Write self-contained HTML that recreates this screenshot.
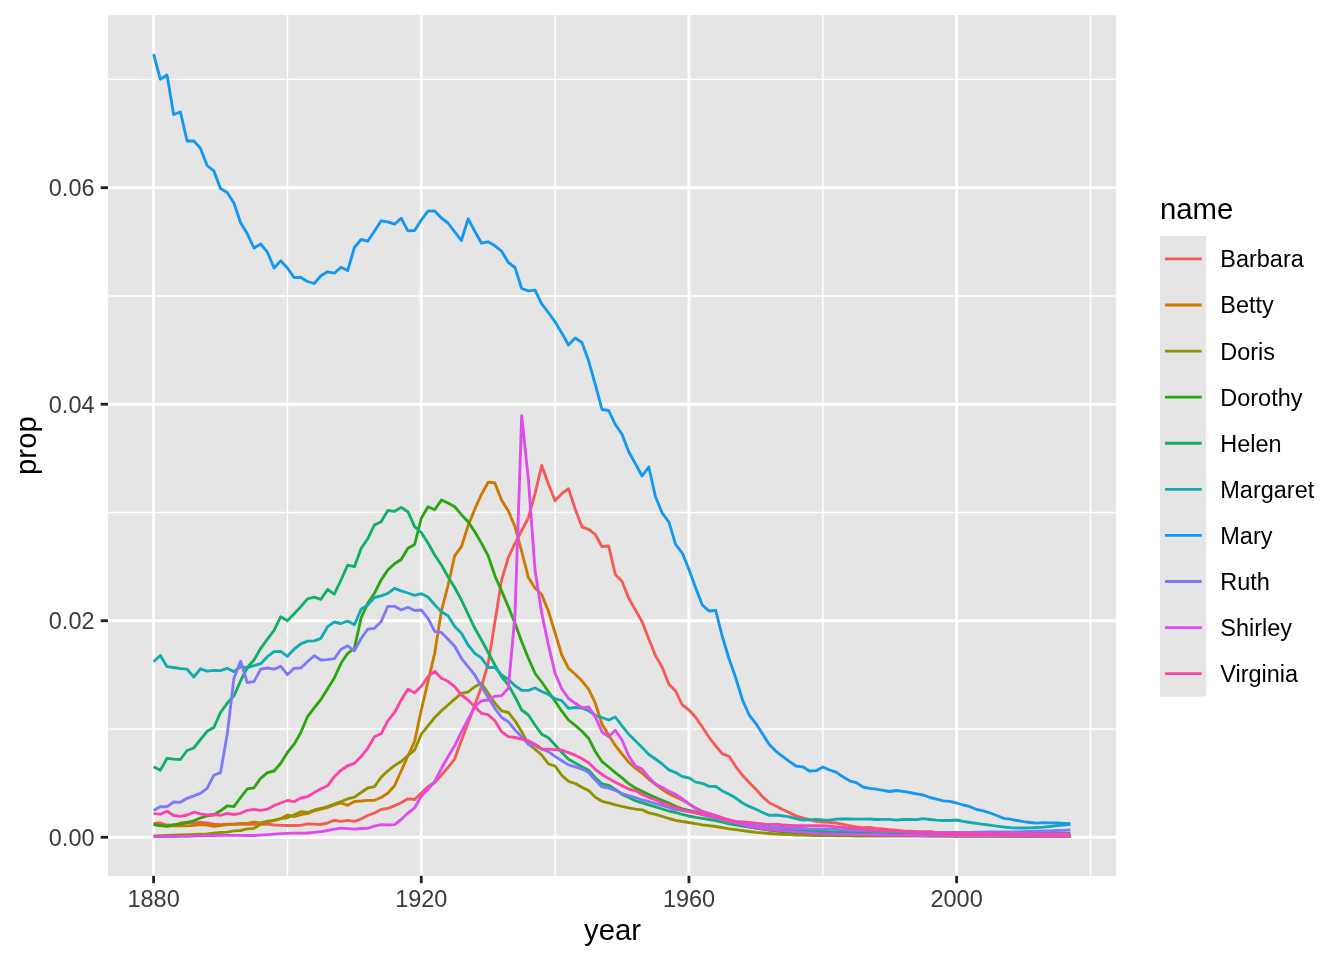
<!DOCTYPE html>
<html><head><meta charset="utf-8"><title>prop by year</title>
<style>html,body{margin:0;padding:0;background:#fff;overflow:hidden}svg{display:block;will-change:transform}text{font-family:"Liberation Sans",sans-serif}</style></head><body>
<svg width="1344" height="960" viewBox="0 0 1344 960">
<rect width="1344" height="960" fill="#fff"/>
<rect x="108" y="15.0" width="1007.9000000000001" height="860.85" fill="#E5E5E5"/>
<g stroke="#fff" stroke-width="1.42" fill="none">
<line x1="108" x2="1115.9" y1="729" y2="729"/>
<line x1="108" x2="1115.9" y1="512.5" y2="512.5"/>
<line x1="108" x2="1115.9" y1="296" y2="296"/>
<line x1="108" x2="1115.9" y1="79.4" y2="79.4"/>
<line x1="287.44" x2="287.44" y1="15.0" y2="875.85"/>
<line x1="555.12" x2="555.12" y1="15.0" y2="875.85"/>
<line x1="822.80" x2="822.80" y1="15.0" y2="875.85"/>
<line x1="1090.48" x2="1090.48" y1="15.0" y2="875.85"/>
</g><g stroke="#fff" stroke-width="2.85" fill="none">
<line x1="108" x2="1115.9" y1="837.26" y2="837.26"/>
<line x1="108" x2="1115.9" y1="620.74" y2="620.74"/>
<line x1="108" x2="1115.9" y1="404.22" y2="404.22"/>
<line x1="108" x2="1115.9" y1="187.7" y2="187.7"/>
<line x1="153.60" x2="153.60" y1="15.0" y2="875.85"/>
<line x1="421.28" x2="421.28" y1="15.0" y2="875.85"/>
<line x1="688.96" x2="688.96" y1="15.0" y2="875.85"/>
<line x1="956.64" x2="956.64" y1="15.0" y2="875.85"/>
</g>
<g fill="none" stroke-width="2.85" stroke-linejoin="round" stroke-linecap="butt">
<polyline stroke="#F55A55" points="153.6,823.3 160.3,823.0 167.0,825.0 173.7,825.3 180.4,823.0 187.1,822.5 193.8,822.8 200.4,822.5 207.1,823.0 213.8,824.2 220.5,824.7 227.2,824.2 233.9,824.2 240.6,824.2 247.3,824.2 254.0,824.2 260.7,824.2 267.4,824.2 274.1,825.0 280.7,825.3 287.4,825.5 294.1,825.5 300.8,825.3 307.5,823.8 314.2,824.2 320.9,824.5 327.6,823.0 334.3,820.3 341.0,821.3 347.7,820.3 354.4,821.3 361.1,819.0 367.7,815.5 374.4,813.0 381.1,809.5 387.8,808.3 394.5,805.8 401.2,802.8 407.9,798.8 414.6,799.5 421.3,793.0 428.0,786.7 434.7,782.5 441.4,775.0 448.0,767.5 454.7,758.8 461.4,740.4 468.1,723.0 474.8,705.0 481.5,686.7 488.2,663.3 494.9,622.0 501.6,580.0 508.3,557.5 515.0,543.3 521.7,530.5 528.4,517.8 535.0,493.8 541.7,465.5 548.4,484.0 555.1,500.8 561.8,493.6 568.5,488.7 575.2,509.0 581.9,526.8 588.6,529.4 595.3,534.3 602.0,546.7 608.7,546.0 615.3,574.5 622.0,581.3 628.7,598.3 635.4,610.0 642.1,621.7 648.8,639.0 655.5,655.6 662.2,667.3 668.9,684.2 675.6,691.0 682.3,705.0 689.0,710.0 695.7,717.2 702.3,727.0 709.0,737.3 715.7,745.8 722.4,753.8 729.1,756.3 735.8,766.6 742.5,775.3 749.2,782.4 755.9,789.3 762.6,796.8 769.3,802.8 776.0,806.0 782.6,809.5 789.3,812.6 796.0,815.9 802.7,817.8 809.4,819.7 816.1,821.3 822.8,822.0 829.5,822.4 836.2,823.0 842.9,824.3 849.6,825.7 856.3,826.9 863.0,827.7 869.6,827.4 876.3,828.3 883.0,829.0 889.7,829.7 896.4,830.2 903.1,830.8 909.8,831.2 916.5,831.7 923.2,831.9 929.9,832.0 936.6,832.4 943.3,832.8 949.9,833.0 956.6,833.3 963.3,833.5 970.0,833.7 976.7,833.8 983.4,834.0 990.1,834.2 996.8,834.3 1003.5,834.4 1010.2,834.5 1016.9,834.6 1023.6,834.7 1030.3,834.7 1036.9,834.8 1043.6,834.8 1050.3,834.9 1057.0,834.9 1063.7,835.0 1070.4,835.0"/>
<polyline stroke="#CB7A00" points="153.6,824.7 160.3,825.8 167.0,825.8 173.7,825.8 180.4,825.8 187.1,825.8 193.8,825.3 200.4,824.7 207.1,825.0 213.8,826.3 220.5,825.5 227.2,824.7 233.9,824.2 240.6,823.3 247.3,823.3 254.0,822.2 260.7,822.8 267.4,821.2 274.1,820.3 280.7,818.7 287.4,815.0 294.1,816.7 300.8,814.7 307.5,813.7 314.2,810.8 320.9,809.2 327.6,807.5 334.3,805.0 341.0,802.9 347.7,805.3 354.4,801.5 361.1,801.0 367.7,800.3 374.4,800.3 381.1,797.5 387.8,793.3 394.5,785.8 401.2,771.0 407.9,755.8 414.6,741.5 421.3,710.0 428.0,681.7 434.7,653.3 441.4,611.0 448.0,585.5 454.7,555.8 461.4,546.7 468.1,525.8 474.8,509.2 481.5,494.2 488.2,482.2 494.9,483.0 501.6,500.2 508.3,510.8 515.0,526.7 521.7,551.5 528.4,577.5 535.0,588.0 541.7,594.6 548.4,611.0 555.1,633.0 561.8,655.0 568.5,668.3 575.2,674.2 581.9,680.8 588.6,689.2 595.3,703.0 602.0,724.2 608.7,735.0 615.3,745.4 622.0,754.0 628.7,762.2 635.4,768.2 642.1,773.2 648.8,779.3 655.5,784.4 662.2,789.4 668.9,793.8 675.6,796.9 682.3,800.0 689.0,803.8 695.7,808.1 702.3,811.3 709.0,813.4 715.7,815.5 722.4,817.8 729.1,820.0 735.8,822.2 742.5,824.5 749.2,826.0 755.9,827.5 762.6,828.8 769.3,830.0 776.0,830.8 782.6,831.5 789.3,832.0 796.0,832.5 802.7,832.9 809.4,833.2 816.1,833.6 822.8,834.0 829.5,834.2 836.2,834.4 842.9,834.6 849.6,834.8 856.3,835.0 863.0,835.0 869.6,835.1 876.3,835.1 883.0,835.2 889.7,835.2 896.4,835.3 903.1,835.3 909.8,835.4 916.5,835.4 923.2,835.5 929.9,835.5 936.6,835.6 943.3,835.6 949.9,835.7 956.6,835.7 963.3,835.8 970.0,835.8 976.7,835.8 983.4,835.9 990.1,835.9 996.8,836.0 1003.5,836.0 1010.2,836.1 1016.9,836.1 1023.6,836.2 1030.3,836.2 1036.9,836.3 1043.6,836.3 1050.3,836.4 1057.0,836.4 1063.7,836.5 1070.4,836.5"/>
<polyline stroke="#929200" points="153.6,835.8 160.3,835.6 167.0,835.4 173.7,835.1 180.4,834.9 187.1,834.7 193.8,834.4 200.4,834.1 207.1,833.8 213.8,833.1 220.5,832.5 227.2,832.2 233.9,830.8 240.6,830.5 247.3,828.8 254.0,828.3 260.7,824.2 267.4,822.0 274.1,820.3 280.7,818.7 287.4,817.8 294.1,814.7 300.8,811.7 307.5,812.5 314.2,810.0 320.9,808.3 327.6,806.7 334.3,804.2 341.0,801.7 347.7,798.8 354.4,797.1 361.1,792.5 367.7,788.0 374.4,786.7 381.1,777.2 387.8,770.8 394.5,765.6 401.2,761.5 407.9,755.6 414.6,750.0 421.3,734.2 428.0,725.8 434.7,717.5 441.4,710.8 448.0,705.0 454.7,699.2 461.4,693.3 468.1,692.0 474.8,686.7 481.5,683.3 488.2,693.3 494.9,703.3 501.6,710.8 508.3,712.5 515.0,720.8 521.7,731.7 528.4,744.2 535.0,749.2 541.7,755.0 548.4,763.8 555.1,766.0 561.8,775.4 568.5,781.3 575.2,783.5 581.9,787.3 588.6,790.6 595.3,797.3 602.0,801.3 608.7,802.9 615.3,804.8 622.0,806.3 628.7,807.9 635.4,809.1 642.1,809.8 648.8,812.9 655.5,814.4 662.2,816.3 668.9,818.5 675.6,820.3 682.3,821.5 689.0,822.5 695.7,823.6 702.3,824.8 709.0,825.6 715.7,826.5 722.4,827.6 729.1,828.8 735.8,829.7 742.5,830.6 749.2,831.5 755.9,832.3 762.6,832.9 769.3,833.5 776.0,834.0 782.6,834.4 789.3,834.7 796.0,835.0 802.7,835.1 809.4,835.3 816.1,835.5 822.8,835.6 829.5,835.7 836.2,835.8 842.9,835.8 849.6,835.9 856.3,836.0 863.0,836.0 869.6,836.0 876.3,836.0 883.0,836.1 889.7,836.1 896.4,836.1 903.1,836.1 909.8,836.1 916.5,836.1 923.2,836.2 929.9,836.2 936.6,836.2 943.3,836.2 949.9,836.2 956.6,836.2 963.3,836.2 970.0,836.3 976.7,836.3 983.4,836.3 990.1,836.3 996.8,836.3 1003.5,836.3 1010.2,836.4 1016.9,836.4 1023.6,836.4 1030.3,836.4 1036.9,836.4 1043.6,836.4 1050.3,836.5 1057.0,836.5 1063.7,836.5 1070.4,836.5"/>
<polyline stroke="#2AA60F" points="153.6,824.7 160.3,825.3 167.0,826.3 173.7,824.7 180.4,824.2 187.1,822.5 193.8,820.8 200.4,818.0 207.1,815.8 213.8,815.0 220.5,810.8 227.2,805.8 233.9,806.7 240.6,797.5 247.3,788.8 254.0,787.8 260.7,778.3 267.4,772.7 274.1,771.0 280.7,763.3 287.4,752.5 294.1,744.2 300.8,732.5 307.5,716.7 314.2,707.8 320.9,699.5 327.6,688.7 334.3,678.0 341.0,663.3 347.7,653.3 354.4,648.3 361.1,618.0 367.7,603.3 374.4,593.3 381.1,580.0 387.8,570.0 394.5,563.7 401.2,559.5 407.9,548.3 414.6,544.5 421.3,518.3 428.0,506.7 434.7,509.7 441.4,500.0 448.0,503.0 454.7,506.7 461.4,514.7 468.1,521.7 474.8,531.7 481.5,543.3 488.2,555.8 494.9,575.8 501.6,590.8 508.3,606.7 515.0,623.3 521.7,641.7 528.4,658.3 535.0,673.3 541.7,682.0 548.4,691.7 555.1,701.3 561.8,711.2 568.5,720.0 575.2,725.3 581.9,731.3 588.6,738.2 595.3,751.5 602.0,761.6 608.7,767.0 615.3,772.7 622.0,777.8 628.7,783.8 635.4,787.9 642.1,791.3 648.8,794.6 655.5,797.5 662.2,800.3 668.9,803.1 675.6,806.3 682.3,808.8 689.0,810.3 695.7,811.9 702.3,813.8 709.0,815.4 715.7,817.0 722.4,819.0 729.1,821.0 735.8,823.0 742.5,825.0 749.2,826.5 755.9,828.0 762.6,829.0 769.3,830.0 776.0,830.8 782.6,831.5 789.3,832.0 796.0,832.5 802.7,832.9 809.4,833.2 816.1,833.6 822.8,834.0 829.5,834.2 836.2,834.4 842.9,834.6 849.6,834.8 856.3,835.0 863.0,835.0 869.6,835.1 876.3,835.1 883.0,835.1 889.7,835.2 896.4,835.2 903.1,835.2 909.8,835.2 916.5,835.3 923.2,835.3 929.9,835.3 936.6,835.4 943.3,835.4 949.9,835.4 956.6,835.5 963.3,835.5 970.0,835.5 976.7,835.6 983.4,835.6 990.1,835.6 996.8,835.7 1003.5,835.7 1010.2,835.7 1016.9,835.8 1023.6,835.8 1030.3,835.8 1036.9,835.8 1043.6,835.9 1050.3,835.9 1057.0,835.9 1063.7,836.0 1070.4,836.0"/>
<polyline stroke="#12AE66" points="153.6,766.7 160.3,770.3 167.0,758.3 173.7,759.2 180.4,759.5 187.1,750.5 193.8,748.0 200.4,739.7 207.1,731.3 213.8,727.5 220.5,712.5 227.2,703.3 233.9,695.8 240.6,680.8 247.3,667.5 254.0,660.0 260.7,648.3 267.4,639.2 274.1,630.3 280.7,616.7 287.4,620.8 294.1,613.7 300.8,606.7 307.5,598.8 314.2,597.2 320.9,599.3 327.6,589.5 334.3,594.2 341.0,580.0 347.7,565.2 354.4,566.7 361.1,548.5 367.7,538.8 374.4,525.0 381.1,521.7 387.8,510.5 394.5,511.3 401.2,507.5 407.9,511.7 414.6,526.7 421.3,532.5 428.0,543.0 434.7,555.0 441.4,565.0 448.0,576.7 454.7,587.5 461.4,600.0 468.1,614.2 474.8,628.3 481.5,640.0 488.2,652.5 494.9,665.0 501.6,676.7 508.3,685.0 515.0,696.7 521.7,710.0 528.4,715.0 535.0,725.0 541.7,734.2 548.4,737.8 555.1,745.0 561.8,752.5 568.5,759.3 575.2,763.0 581.9,766.8 588.6,770.2 595.3,777.7 602.0,783.8 608.7,785.3 615.3,789.4 622.0,794.4 628.7,797.5 635.4,800.6 642.1,802.9 648.8,804.8 655.5,806.9 662.2,809.0 668.9,811.0 675.6,812.5 682.3,814.4 689.0,816.0 695.7,817.3 702.3,818.3 709.0,819.5 715.7,820.6 722.4,822.2 729.1,823.8 735.8,824.9 742.5,826.0 749.2,827.0 755.9,828.0 762.6,828.7 769.3,829.4 776.0,829.7 782.6,830.0 789.3,830.3 796.0,830.6 802.7,830.8 809.4,831.0 816.1,831.3 822.8,831.5 829.5,831.7 836.2,831.8 842.9,832.0 849.6,832.1 856.3,832.3 863.0,832.3 869.6,832.4 876.3,832.4 883.0,832.4 889.7,832.5 896.4,832.5 903.1,832.6 909.8,832.6 916.5,832.6 923.2,832.7 929.9,832.7 936.6,832.8 943.3,832.8 949.9,832.8 956.6,832.9 963.3,832.9 970.0,832.9 976.7,833.0 983.4,833.0 990.1,833.0 996.8,833.1 1003.5,833.1 1010.2,833.2 1016.9,833.2 1023.6,833.2 1030.3,833.3 1036.9,833.3 1043.6,833.4 1050.3,833.4 1057.0,833.4 1063.7,833.5 1070.4,833.5"/>
<polyline stroke="#12ABB0" points="153.6,661.7 160.3,655.5 167.0,666.7 173.7,667.5 180.4,668.7 187.1,669.2 193.8,677.0 200.4,668.8 207.1,671.2 213.8,670.3 220.5,670.7 227.2,668.3 233.9,671.7 240.6,666.7 247.3,668.0 254.0,665.5 260.7,663.7 267.4,656.7 274.1,651.7 280.7,651.3 287.4,656.3 294.1,649.2 300.8,643.8 307.5,641.2 314.2,640.8 320.9,638.3 327.6,626.7 334.3,622.0 341.0,623.5 347.7,621.0 354.4,624.8 361.1,609.2 367.7,605.0 374.4,597.5 381.1,595.8 387.8,593.3 394.5,588.3 401.2,590.8 407.9,593.0 414.6,595.3 421.3,593.7 428.0,597.0 434.7,604.7 441.4,611.7 448.0,615.8 454.7,626.5 461.4,633.3 468.1,645.0 474.8,653.3 481.5,658.0 488.2,667.5 494.9,667.5 501.6,675.0 508.3,679.2 515.0,685.8 521.7,690.3 528.4,690.3 535.0,688.0 541.7,691.5 548.4,694.5 555.1,698.8 561.8,700.6 568.5,708.3 575.2,707.5 581.9,708.0 588.6,710.8 595.3,715.3 602.0,717.5 608.7,720.0 615.3,717.0 622.0,725.8 628.7,734.2 635.4,740.8 642.1,747.5 648.8,754.5 655.5,759.0 662.2,764.0 668.9,769.9 675.6,772.6 682.3,776.5 689.0,777.8 695.7,782.1 702.3,783.3 709.0,786.4 715.7,786.5 722.4,790.9 729.1,794.3 735.8,798.1 742.5,803.0 749.2,806.4 755.9,809.3 762.6,812.5 769.3,815.4 776.0,815.0 782.6,815.9 789.3,816.8 796.0,818.7 802.7,820.0 809.4,819.8 816.1,819.3 822.8,819.9 829.5,820.2 836.2,819.2 842.9,819.0 849.6,818.9 856.3,819.1 863.0,819.2 869.6,819.0 876.3,819.5 883.0,819.3 889.7,819.3 896.4,820.2 903.1,819.5 909.8,819.5 916.5,819.7 923.2,818.7 929.9,819.5 936.6,820.2 943.3,820.5 949.9,820.5 956.6,820.0 963.3,821.3 970.0,822.5 976.7,823.3 983.4,824.3 990.1,825.2 996.8,826.2 1003.5,827.0 1010.2,827.7 1016.9,828.0 1023.6,828.0 1030.3,827.8 1036.9,827.5 1043.6,827.2 1050.3,826.5 1057.0,825.7 1063.7,825.0 1070.4,824.3"/>
<polyline stroke="#1298F2" points="153.6,54.2 160.3,79.2 167.0,75.0 173.7,114.5 180.4,112.0 187.1,141.0 193.8,140.8 200.4,148.2 207.1,165.5 213.8,170.8 220.5,188.5 227.2,192.5 233.9,203.0 240.6,222.8 247.3,233.8 254.0,248.0 260.7,244.0 267.4,252.2 274.1,268.0 280.7,260.8 287.4,268.0 294.1,277.5 300.8,277.5 307.5,281.5 314.2,283.5 320.9,275.8 327.6,271.8 334.3,273.2 341.0,267.2 347.7,270.5 354.4,247.5 361.1,239.5 367.7,241.2 374.4,231.2 381.1,220.8 387.8,221.8 394.5,224.2 401.2,218.2 407.9,230.8 414.6,230.5 421.3,220.0 428.0,211.2 434.7,211.0 441.4,218.0 448.0,223.0 454.7,231.8 461.4,240.5 468.1,218.8 474.8,231.2 481.5,243.2 488.2,241.8 494.9,245.8 501.6,251.2 508.3,262.5 515.0,267.5 521.7,288.5 528.4,290.8 535.0,290.2 541.7,303.8 548.4,312.5 555.1,322.0 561.8,333.0 568.5,345.0 575.2,338.0 581.9,342.5 588.6,360.8 595.3,384.5 602.0,409.5 608.7,410.5 615.3,424.5 622.0,434.2 628.7,451.8 635.4,463.8 642.1,476.0 648.8,467.0 655.5,496.8 662.2,513.0 668.9,522.0 675.6,544.3 682.3,553.0 689.0,569.5 695.7,588.0 702.3,605.0 709.0,611.0 715.7,610.3 722.4,637.0 729.1,659.0 735.8,678.0 742.5,700.0 749.2,715.0 755.9,723.6 762.6,734.0 769.3,744.5 776.0,751.3 782.6,756.3 789.3,761.3 796.0,766.0 802.7,766.8 809.4,771.0 816.1,770.7 822.8,767.0 829.5,770.0 836.2,772.2 842.9,776.8 849.6,780.8 856.3,782.6 863.0,787.0 869.6,788.3 876.3,789.2 883.0,790.3 889.7,791.5 896.4,790.5 903.1,791.3 909.8,792.5 916.5,793.8 923.2,795.0 929.9,797.5 936.6,799.2 943.3,800.8 949.9,801.3 956.6,803.0 963.3,805.0 970.0,806.7 976.7,809.5 983.4,810.8 990.1,813.0 996.8,815.5 1003.5,818.3 1010.2,819.2 1016.9,820.5 1023.6,821.7 1030.3,822.5 1036.9,823.2 1043.6,822.7 1050.3,822.8 1057.0,823.0 1063.7,823.3 1070.4,823.7"/>
<polyline stroke="#7E78FB" points="153.6,810.5 160.3,806.7 167.0,806.7 173.7,802.0 180.4,802.3 187.1,798.3 193.8,795.8 200.4,793.3 207.1,788.3 213.8,775.3 220.5,772.6 227.2,734.5 233.9,678.3 240.6,661.2 247.3,682.5 254.0,681.7 260.7,669.2 267.4,668.0 274.1,669.2 280.7,666.2 287.4,674.7 294.1,668.3 300.8,668.0 307.5,661.7 314.2,655.8 320.9,660.0 327.6,659.7 334.3,658.7 341.0,649.2 347.7,645.8 354.4,650.8 361.1,638.5 367.7,629.2 374.4,628.3 381.1,621.7 387.8,606.3 394.5,606.3 401.2,610.0 407.9,607.2 414.6,610.5 421.3,610.0 428.0,618.3 434.7,631.3 441.4,632.5 448.0,639.2 454.7,646.3 461.4,658.3 468.1,666.7 474.8,675.0 481.5,686.7 488.2,697.5 494.9,708.3 501.6,717.5 508.3,721.7 515.0,730.0 521.7,736.7 528.4,744.4 535.0,745.5 541.7,749.0 548.4,751.6 555.1,756.4 561.8,760.7 568.5,764.9 575.2,766.8 581.9,769.1 588.6,772.5 595.3,780.0 602.0,786.9 608.7,788.1 615.3,790.4 622.0,793.5 628.7,795.6 635.4,797.5 642.1,800.0 648.8,801.5 655.5,803.5 662.2,805.6 668.9,807.5 675.6,809.4 682.3,810.6 689.0,811.5 695.7,812.5 702.3,814.6 709.0,816.4 715.7,818.1 722.4,819.7 729.1,821.3 735.8,822.5 742.5,823.8 749.2,824.7 755.9,825.6 762.6,826.2 769.3,826.9 776.0,827.2 782.6,827.5 789.3,827.8 796.0,828.1 802.7,828.5 809.4,828.8 816.1,828.9 822.8,829.0 829.5,829.2 836.2,829.4 842.9,829.8 849.6,830.1 856.3,830.5 863.0,830.7 869.6,830.9 876.3,831.1 883.0,831.3 889.7,831.5 896.4,831.7 903.1,831.8 909.8,832.0 916.5,832.1 923.2,832.3 929.9,832.3 936.6,832.4 943.3,832.4 949.9,832.5 956.6,832.5 963.3,832.4 970.0,832.3 976.7,832.2 983.4,832.1 990.1,832.0 996.8,831.9 1003.5,831.9 1010.2,831.8 1016.9,831.8 1023.6,831.7 1030.3,831.5 1036.9,831.2 1043.6,831.0 1050.3,830.8 1057.0,830.5 1063.7,830.3 1070.4,830.0"/>
<polyline stroke="#E04AEF" points="153.6,836.7 160.3,836.6 167.0,836.5 173.7,836.5 180.4,836.4 187.1,836.3 193.8,836.1 200.4,835.9 207.1,835.7 213.8,835.5 220.5,835.3 227.2,835.3 233.9,835.4 240.6,835.4 247.3,835.5 254.0,835.5 260.7,835.1 267.4,834.6 274.1,834.2 280.7,833.7 287.4,833.3 294.1,833.2 300.8,833.1 307.5,833.0 314.2,832.4 320.9,831.7 327.6,830.5 334.3,829.2 341.0,828.2 347.7,828.7 354.4,829.2 361.1,828.5 367.7,828.3 374.4,826.2 381.1,824.7 387.8,825.0 394.5,824.7 401.2,819.5 407.9,813.0 414.6,807.8 421.3,796.3 428.0,789.2 434.7,781.5 441.4,768.3 448.0,756.7 454.7,745.8 461.4,732.0 468.1,719.5 474.8,706.7 481.5,700.8 488.2,700.0 494.9,696.3 501.6,695.6 508.3,688.3 515.0,615.0 521.7,415.8 528.4,479.5 535.0,570.0 541.7,613.0 548.4,645.0 555.1,673.3 561.8,688.8 568.5,698.5 575.2,703.3 581.9,707.8 588.6,707.0 595.3,716.7 602.0,732.0 608.7,736.7 615.3,730.3 622.0,740.0 628.7,755.7 635.4,766.1 642.1,769.1 648.8,777.5 655.5,784.0 662.2,787.5 668.9,791.3 675.6,794.4 682.3,798.8 689.0,804.1 695.7,808.7 702.3,811.5 709.0,813.5 715.7,815.6 722.4,818.1 729.1,820.6 735.8,822.5 742.5,824.4 749.2,826.3 755.9,827.5 762.6,828.5 769.3,829.4 776.0,830.0 782.6,830.6 789.3,831.2 796.0,831.9 802.7,832.3 809.4,832.8 816.1,833.3 822.8,833.8 829.5,834.0 836.2,834.1 842.9,834.3 849.6,834.4 856.3,834.6 863.0,834.7 869.6,834.9 876.3,835.0 883.0,835.2 889.7,835.3 896.4,835.3 903.1,835.4 909.8,835.4 916.5,835.5 923.2,835.5 929.9,835.6 936.6,835.6 943.3,835.7 949.9,835.8 956.6,835.8 963.3,835.8 970.0,835.8 976.7,835.8 983.4,835.8 990.1,835.9 996.8,835.9 1003.5,835.9 1010.2,835.9 1016.9,835.9 1023.6,835.9 1030.3,835.9 1036.9,835.9 1043.6,836.0 1050.3,836.0 1057.0,836.0 1063.7,836.0 1070.4,836.0"/>
<polyline stroke="#FB44A6" points="153.6,813.7 160.3,814.2 167.0,811.3 173.7,815.5 180.4,816.3 187.1,815.0 193.8,812.2 200.4,813.8 207.1,815.0 213.8,814.5 220.5,815.3 227.2,813.3 233.9,814.5 240.6,813.3 247.3,810.3 254.0,809.5 260.7,810.3 267.4,809.2 274.1,805.5 280.7,803.0 287.4,800.5 294.1,801.7 300.8,798.0 307.5,796.7 314.2,792.5 320.9,788.8 327.6,785.8 334.3,776.7 341.0,770.3 347.7,765.8 354.4,763.3 361.1,756.5 367.7,748.3 374.4,736.7 381.1,733.8 387.8,720.8 394.5,712.5 401.2,700.0 407.9,689.2 414.6,692.8 421.3,686.2 428.0,676.7 434.7,671.3 441.4,678.3 448.0,681.3 454.7,686.7 461.4,695.0 468.1,700.0 474.8,706.7 481.5,713.3 488.2,714.7 494.9,720.8 501.6,731.7 508.3,736.7 515.0,737.5 521.7,739.2 528.4,740.8 535.0,744.2 541.7,749.0 548.4,749.2 555.1,749.6 561.8,750.2 568.5,752.7 575.2,755.2 581.9,758.6 588.6,762.7 595.3,769.3 602.0,774.5 608.7,778.6 615.3,782.3 622.0,785.6 628.7,789.0 635.4,790.6 642.1,794.4 648.8,797.5 655.5,799.8 662.2,803.1 668.9,805.0 675.6,807.5 682.3,809.8 689.0,811.7 695.7,813.1 702.3,814.3 709.0,815.6 715.7,816.9 722.4,818.5 729.1,820.0 735.8,821.3 742.5,821.9 749.2,822.5 755.9,823.1 762.6,823.9 769.3,824.6 776.0,824.1 782.6,825.0 789.3,825.3 796.0,825.6 802.7,825.6 809.4,825.6 816.1,825.6 822.8,825.6 829.5,826.2 836.2,826.9 842.9,827.3 849.6,827.8 856.3,828.5 863.0,829.2 869.6,829.6 876.3,830.0 883.0,830.4 889.7,830.8 896.4,831.2 903.1,831.7 909.8,831.9 916.5,832.0 923.2,831.9 929.9,831.7 936.6,832.7 943.3,833.0 949.9,833.1 956.6,833.3 963.3,833.4 970.0,833.5 976.7,833.5 983.4,833.6 990.1,833.7 996.8,833.7 1003.5,833.7 1010.2,833.8 1016.9,833.8 1023.6,833.8 1030.3,833.8 1036.9,833.8 1043.6,833.8 1050.3,833.8 1057.0,833.8 1063.7,833.8 1070.4,833.8"/>
</g>
<g stroke="#222" stroke-width="2.85">
<line x1="100.67" x2="108" y1="837.26" y2="837.26"/>
<line x1="100.67" x2="108" y1="620.74" y2="620.74"/>
<line x1="100.67" x2="108" y1="404.22" y2="404.22"/>
<line x1="100.67" x2="108" y1="187.7" y2="187.7"/>
<line x1="153.60" x2="153.60" y1="875.85" y2="883.18"/>
<line x1="421.28" x2="421.28" y1="875.85" y2="883.18"/>
<line x1="688.96" x2="688.96" y1="875.85" y2="883.18"/>
<line x1="956.64" x2="956.64" y1="875.85" y2="883.18"/>
</g>
<g fill="#3A3A3A" font-size="23.47">
<text x="94.5" y="846.0" text-anchor="end">0.00</text>
<text x="94.5" y="629.4" text-anchor="end">0.02</text>
<text x="94.5" y="412.9" text-anchor="end">0.04</text>
<text x="94.5" y="196.4" text-anchor="end">0.06</text>
<text x="153.6" y="906.5" text-anchor="middle">1880</text>
<text x="421.3" y="906.5" text-anchor="middle">1920</text>
<text x="689.0" y="906.5" text-anchor="middle">1960</text>
<text x="956.6" y="906.5" text-anchor="middle">2000</text>
</g>
<g fill="#000" font-size="29.33">
<text x="612.5" y="940" text-anchor="middle">year</text>
<text transform="translate(35.6,445.6) rotate(-90)" text-anchor="middle">prop</text>
<text x="1160" y="219">name</text>
</g>
<rect x="1160" y="235.9" width="46.08" height="460.80" fill="#E5E5E5"/>
<g stroke-width="2.85" fill="none">
<line x1="1165" x2="1201.7" y1="258.94" y2="258.94" stroke="#F55A55"/>
<line x1="1165" x2="1201.7" y1="305.02" y2="305.02" stroke="#CB7A00"/>
<line x1="1165" x2="1201.7" y1="351.10" y2="351.10" stroke="#929200"/>
<line x1="1165" x2="1201.7" y1="397.18" y2="397.18" stroke="#2AA60F"/>
<line x1="1165" x2="1201.7" y1="443.26" y2="443.26" stroke="#12AE66"/>
<line x1="1165" x2="1201.7" y1="489.34" y2="489.34" stroke="#12ABB0"/>
<line x1="1165" x2="1201.7" y1="535.42" y2="535.42" stroke="#1298F2"/>
<line x1="1165" x2="1201.7" y1="581.50" y2="581.50" stroke="#7E78FB"/>
<line x1="1165" x2="1201.7" y1="627.58" y2="627.58" stroke="#E04AEF"/>
<line x1="1165" x2="1201.7" y1="673.66" y2="673.66" stroke="#FB44A6"/>
</g><g fill="#000" font-size="23.47">
<text x="1220.3" y="267.3">Barbara</text>
<text x="1220.3" y="313.4">Betty</text>
<text x="1220.3" y="359.5">Doris</text>
<text x="1220.3" y="405.6">Dorothy</text>
<text x="1220.3" y="451.7">Helen</text>
<text x="1220.3" y="497.7">Margaret</text>
<text x="1220.3" y="543.8">Mary</text>
<text x="1220.3" y="589.9">Ruth</text>
<text x="1220.3" y="636.0">Shirley</text>
<text x="1220.3" y="682.1">Virginia</text>
</g>
</svg></body></html>
